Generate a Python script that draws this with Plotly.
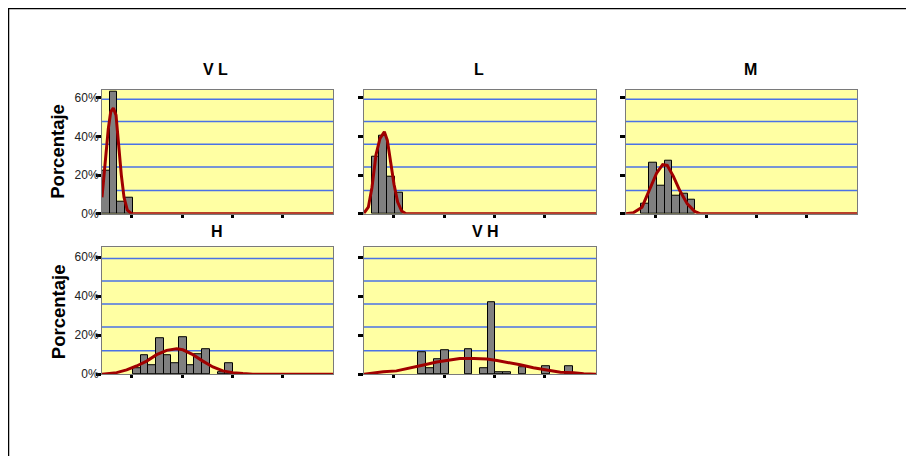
import plotly.graph_objects as go

# ---------------- data (percent per bin, bins of unit width, 30 bins) ----------------
vl_bins = [0, 1, 2, 3]
vl_pct = [22.1, 63.1, 6.3, 8.1]
vl_curve_x = [0, 0.39, 0.82, 1.13, 1.47, 1.82, 2.16, 2.51, 2.86, 3.29, 3.85, 30]
vl_curve_y = [8.5, 25, 44, 52.7, 54.7, 51, 34, 20, 8.5, 1.9, 0, 0]

l_bins = [1, 2, 3, 4]
l_pct = [29.5, 40.5, 19.0, 10.8]
l_curve_x = [0, 0.56, 1.03, 1.55, 2.07, 2.63, 3.02, 3.45, 3.88, 4.35, 4.87, 5.43, 30]
l_curve_y = [0.3, 3.4, 13.6, 30.5, 39, 42.4, 38, 27, 15.3, 6, 1.4, 0, 0]

m_bins = [2, 3, 4, 5, 6, 7, 8]
m_pct = [5.4, 26.4, 14.6, 27.5, 9.2, 10.2, 7.3]
m_curve_x = [0, 0.95, 2.08, 3.03, 4.0, 4.76, 5.36, 6.14, 7.0, 7.96, 8.91, 9.6, 30]
m_curve_y = [0, 0.5, 3.4, 11.9, 21.2, 25.4, 25, 19.5, 11.9, 5.1, 1.2, 0, 0]

h_bins = [4, 5, 6, 7, 8, 9, 10, 11, 12, 13, 15, 16]
h_pct = [3.3, 9.5, 4.7, 18.3, 9.5, 5.5, 19.2, 4.7, 10.0, 12.8, 1.0, 5.5]
h_curve_x = [0, 1.9, 3.2, 4.5, 5.8, 7.1, 8.4, 9.7, 10.5, 11.8, 13.1, 14.4, 15.7, 17.0, 18.3, 19.6, 30]
h_curve_y = [0, 0.8, 2.2, 4.2, 6.7, 10, 12.2, 13, 12.5, 10, 6.7, 3.7, 1.7, 0.8, 0.3, 0, 0]

vh_bins = [7, 8, 9, 10, 13, 15, 16, 17, 18, 20, 23, 26]
vh_pct = [11.2, 3.3, 7.5, 12.2, 13.0, 3.0, 36.7, 1.2, 1.2, 3.8, 4.2, 4.2]
vh_curve_x = [0, 1.2, 2.5, 4.2, 5.9, 7.7, 9.4, 11.1, 12.4, 14.2, 15.9, 17.2, 18.5, 20.2, 21.9, 23.6, 25.4, 27.1, 28.4, 30]
vh_curve_y = [0, 0.8, 1.3, 1.7, 3, 4.7, 6.2, 7.2, 8, 8, 7.8, 7, 6.2, 4.8, 3.3, 2.2, 1, 0.8, 0.2, 0]

titles = ["V L", "L", "M", "H", "V H"]
y_tick_vals = [0, 20, 40, 60]
y_tick_text = ["0%", "20%", "40%", "60%"]
grid_levels = [12, 24.2, 36, 47.7, 59.2]
x_tick_vals = [3.85, 10.4, 16.9, 23.4]
n_bins = 30

# ---------------- layout geometry (page pixels; page body has an 8px margin) ----------------
OFF = 8
W, H = 914 - 2 * OFF, 464 - 2 * OFF
cols = [(102, 333), (364, 596), (626, 857)]
rows = [(91, 217), (251, 380)]
row_ymax = [64.2, 65.05]
title_pos = [(215, 70), (479, 70), (750, 70), (217, 235), (485, 235)]


def px(x):
    return (x - OFF) / W


def py(y):
    return 1 - (y - OFF) / H


panels = [
    (vl_bins, vl_pct, vl_curve_x, vl_curve_y, 0, 0),
    (l_bins, l_pct, l_curve_x, l_curve_y, 1, 0),
    (m_bins, m_pct, m_curve_x, m_curve_y, 2, 0),
    (h_bins, h_pct, h_curve_x, h_curve_y, 0, 1),
    (vh_bins, vh_pct, vh_curve_x, vh_curve_y, 1, 1),
]

FONT = "Arial, Liberation Sans, sans-serif"
BAR_COLOR = "#808080"
CURVE_COLOR = "#a00000"
GRID_COLOR = "#4a72e6"
BG = "#ffffa3"

fig = go.Figure()
layout = dict(
    width=W, height=H,
    margin=dict(l=0, r=0, t=0, b=0),
    paper_bgcolor="white",
    plot_bgcolor=BG,
    showlegend=False,
    bargap=0,
    barmode="overlay",
    font=dict(family=FONT, color="black"),
)
shapes = []
annotations = []

for i, (bins, pct, cx, cy, c, r) in enumerate(panels):
    n = i + 1
    xa = "x" if n == 1 else f"x{n}"
    ya = "y" if n == 1 else f"y{n}"
    x0, x1 = cols[c]
    yt, yb = rows[r]
    fig.add_trace(go.Bar(
        x=[b + 0.5 for b in bins], y=pct, width=1,
        marker=dict(color=BAR_COLOR, line=dict(color="black", width=1)),
        xaxis=xa, yaxis=ya, hoverinfo="skip",
    ))
    fig.add_trace(go.Scatter(
        x=cx, y=cy, mode="lines",
        line=dict(color=CURVE_COLOR, width=3),
        xaxis=xa, yaxis=ya, hoverinfo="skip",
    ))
    layout[f"xaxis{'' if n == 1 else n}"] = dict(
        domain=[px(x0), px(x1)], range=[0, n_bins], anchor=ya,
        showgrid=False, zeroline=False,
        showline=True, linecolor="#7a7a7a", linewidth=1, mirror=True,
        tickmode="array", tickvals=x_tick_vals, ticks="outside",
        ticklen=3, tickwidth=3, tickcolor="black", showticklabels=False,
    )
    layout[f"yaxis{'' if n == 1 else n}"] = dict(
        domain=[py(yb), py(yt)], range=[0, row_ymax[r]], anchor=xa,
        showgrid=False, zeroline=False,
        showline=True, linecolor="#7a7a7a", linewidth=1, mirror=True,
        tickmode="array", tickvals=y_tick_vals, ticktext=y_tick_text,
        ticks="outside", ticklen=5, tickwidth=3, tickcolor="black",
        showticklabels=(c == 0), ticklabelstandoff=-5,
        tickfont=dict(family=FONT, size=12, color="#222222"),
    )
    for g in grid_levels:
        shapes.append(dict(
            type="line", xref=f"{xa} domain", yref=ya,
            x0=0, x1=1, y0=g, y1=g, layer="below",
            line=dict(color=GRID_COLOR, width=1.5),
        ))
    tx, ty = title_pos[i]
    annotations.append(dict(
        text=f"<b>{titles[i]}</b>", x=px(tx), y=py(ty),
        xref="paper", yref="paper", showarrow=False,
        xanchor="center", yanchor="middle",
        font=dict(family=FONT, size=16, color="black"),
    ))

for cy_px in (154, 317):
    annotations.append(dict(
        text="<b>Porcentaje</b>", x=px(58), y=py(cy_px),
        xref="paper", yref="paper", showarrow=False, textangle=-90,
        xanchor="center", yanchor="middle",
        font=dict(family=FONT, size=18.5, color="black"),
    ))

# outer frame
shapes.append(dict(
    type="rect", xref="paper", yref="paper",
    x0=0, x1=1.02, y0=-0.02, y1=1,
    line=dict(color="black", width=2.5), layer="above",
))

layout["shapes"] = shapes
layout["annotations"] = annotations
fig.update_layout(**layout)
fig.write_html("out.html")
